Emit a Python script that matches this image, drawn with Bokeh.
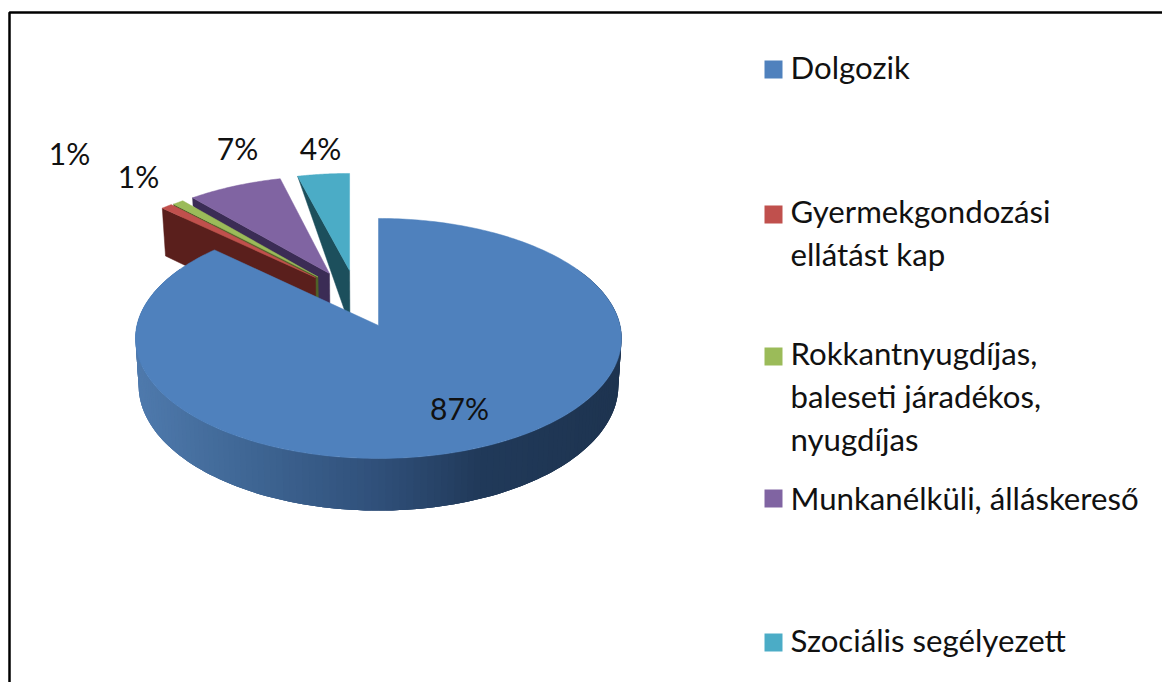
import numpy as np
from bokeh.plotting import figure
from bokeh.models import Range1d
from bokeh.core.properties import value
from bokeh.embed import file_html
from bokeh.resources import INLINE

# ---- data ----
categories = ["Dolgozik", "Gyermekgondozási\nellátást kap",
              "Rokkantnyugdíjas,\nbaleseti járadékos,\nnyugdíjas",
              "Munkanélküli, álláskereső", "Szociális segélyezett"]
values = [87, .85, .85, 7.3, 4]
pct_labels = ["87%", "1%", "1%", "7%", "4%"]

# ---- style / geometry ----
top_colors = ["#4f81bd", "#c0504d", "#9bbb59", "#8064a2", "#4bacc6"]
side_colors = ["#30507a", "#5a1f1c", "#4f6228", "#3b2c55", "#1c4f5c"]
explode = [(0, 0), (-.273, .423), (-.262, .428), (-.213, .46), (-.126, .488)]
shear = [0, 0, 0, -.008, -.013]
side_outer = [0, 1.15, 0.15, 0.2, 0.0]     # share of depth kept at the outer corner
side_apex = [1, 1.15, 1.15, 1.2, 1.25]     # share of depth at the apex
CX, CY, A, B, K, D = 378, 325, 241.6, 118.6, .108, 46.5
label_x = [459, 138, 69, 237, 320]
label_y = [407.5, 175.5, 152.5, 147.5, 147.5]
square_y = [69, 214, 356, 498, 642]
legend_y = [66.5, 232, 395.5, 497.5, 639.5]
FONT = "Lato"
FS_LEGEND, FS_LABEL = "31.2px", "30px"


def top(u, v):
    den = 1 + K * v
    return CX + A * u / den, CY - B * v / den


def bottom(u, v):
    den = 1 + K * v
    return CX + .987 * A * u / den, CY - B * v / den + D / den


def lerp_color(t):
    stops = [(136, (79, 122, 173)), (250, (63, 102, 148)), (378, (48, 80, 122)),
             (480, (33, 58, 90)), (622, (30, 52, 80))]
    xs = [s[0] for s in stops]
    rgb = [int(np.interp(t, xs, [s[1][i] for s in stops])) for i in range(3)]
    return "#%02x%02x%02x" % tuple(rgb)


p = figure(width=1162, height=682, x_range=Range1d(0, 1162), y_range=Range1d(682, 0),
           toolbar_location=None, output_backend="svg", min_border=0,
           outline_line_color=None, background_fill_color="white")
p.axis.visible = False
p.grid.visible = False

# frame
p.line([9, 9, 1162], [682, 12, 12], line_color="black", line_width=2.5)

# angular extents of slices
edges = np.cumsum([0] + values) * 3.6

# exploded slices back to front: teal, purple, green, red
for i in [4, 3, 2, 1]:
    ox, oz = explode[i]
    t0, t1 = np.radians(edges[i]), np.radians(edges[i + 1])
    th = np.linspace(t0, t1, 40)
    v = np.cos(th) + oz
    u = np.sin(th) + ox + shear[i] * np.cos(th)
    # cut face on the start-angle side
    ax, ay = top(ox, oz)
    bx, by = bottom(ox, oz)
    ox0, oy0 = top(u[0], v[0])
    ox1, oy1 = bottom(u[0], v[0])
    s, sa = side_outer[i], side_apex[i]
    fx = [ox0, ax, bx, ox0 + (ox1 - ox0) * s]
    fy = [oy0, ay, ay + (by - ay) * sa, oy0 + (oy1 - oy0) * s]
    p.patch(fx, fy, fill_color=side_colors[i], line_color=side_colors[i], line_width=.5)
    tx, ty = top(u, v)
    p.patch(np.r_[ax, tx], np.r_[ay, ty], fill_color=top_colors[i],
            line_color=top_colors[i], line_width=.5)

# blue slice: rim strips with shading, then top face
th = np.radians(np.linspace(60, 300, 161))
u, v = np.sin(th), np.cos(th)
tx, ty = top(u, v)
bx, by = bottom(u, v)
n = len(th)
xs, ys, cols = [], [], []
for j in range(n - 1):
    e = min(j + 3, n - 1)
    xs.append(list(tx[j:e + 1]) + list(bx[j:e + 1][::-1]))
    ys.append(list(ty[j:e + 1]) + list(by[j:e + 1][::-1]))
    cols.append(lerp_color((tx[j] + tx[j + 1]) / 2))
p.patches(xs, ys, fill_color=cols, line_color=None)

th = np.radians(np.linspace(edges[0], edges[1], 300))
tx, ty = top(np.sin(th), np.cos(th))
cx0, cy0 = top(0, 0)
p.patch(np.r_[cx0, tx], np.r_[cy0, ty], fill_color=top_colors[0],
        line_color=top_colors[0], line_width=.5)

# percentage labels
p.text(label_x, label_y, text=pct_labels, text_font=value(FONT), text_font_size=value(FS_LABEL),
       text_color="#111111", text_align="center", text_baseline="middle")

# legend
p.rect([773] * 5, square_y, width=18, height=18, fill_color=top_colors, line_color=None)
p.text([790] * 5, legend_y, text=categories, text_font=value(FONT), text_font_size=value(FS_LEGEND),
       text_color="#111111", text_align="left", text_baseline="middle", text_line_height=1.12)

open("out.html", "w").write(file_html(p, INLINE))
